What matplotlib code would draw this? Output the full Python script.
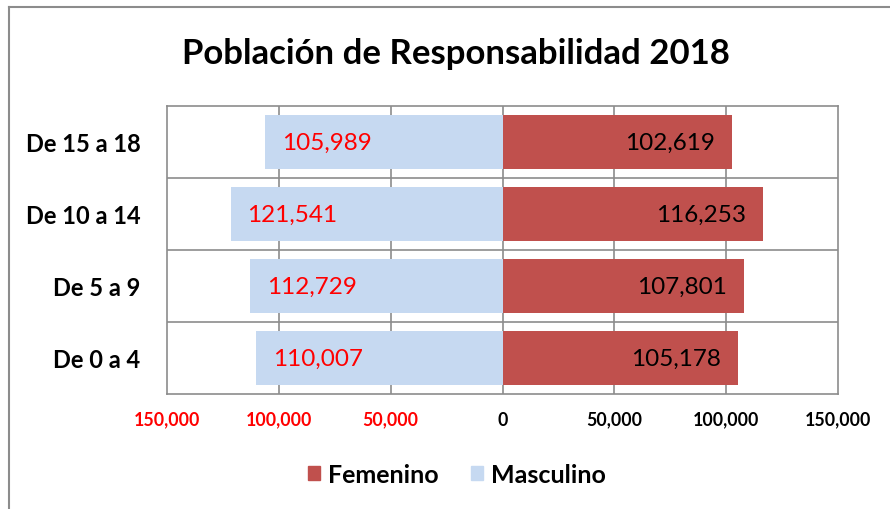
import matplotlib.pyplot as plt
import numpy as np
from matplotlib.patches import Patch
from matplotlib.lines import Line2D

plt.rcParams['font.family'] = ['Lato', 'DejaVu Sans']

groups = ["De 0 a 4", "De 5 a 9", "De 10 a 14", "De 15 a 18"]
masculino = [110007, 112729, 121541, 105989]
femenino = [105178, 107801, 116253, 102619]
ticks = [-150000, -100000, -50000, 0, 50000, 100000, 150000]

c_fem = "#C0504D"
c_mas = "#C6D9F1"

fig = plt.figure(figsize=(8.9, 5.1), dpi=100)
ax = fig.add_axes([167 / 890, 1 - 395 / 510, 671 / 890, 288 / 510])

y = np.arange(len(groups))
ax.barh(y, [-v for v in masculino], height=0.74, color=c_mas, zorder=2)
ax.barh(y, femenino, height=0.74, color=c_fem, zorder=2)

# value labels, inside the end of each bar
for yi, m, f in zip(y, masculino, femenino):
    ax.text(-m + 7500, yi, f"{m:,}", color="red", fontsize=17.5,
            ha="left", va="center", zorder=3)
    ax.text(f - 7500, yi, f"{f:,}", color="black", fontsize=17.5,
            ha="right", va="center", zorder=3)

ax.set_xlim(-150000, 150000)
ax.set_ylim(-0.5, len(groups) - 0.5)
ax.set_yticks(y)
ax.set_yticklabels(groups, fontsize=17, fontweight="bold")
ax.set_xticks(ticks)
ax.set_xticklabels([f"{abs(t):,}" for t in ticks], fontsize=12.8, fontweight="bold")
for lbl, t in zip(ax.get_xticklabels(), ticks):
    if t < 0:
        lbl.set_color("red")
ax.tick_params(length=0, pad=12)
ax.tick_params(axis="y", pad=19)

# grid: vertical at ticks, horizontal between categories
for t in ticks[1:-1]:
    ax.axvline(t, color="#8c8c8c", lw=1.2, zorder=1)
for b in [0.5, 1.5, 2.5]:
    ax.axhline(b, color="#8c8c8c", lw=1.2, zorder=1)
for s in ax.spines.values():
    s.set_color("#8c8c8c")
    s.set_linewidth(1.2)

fig.text(0.512, 0.895, "Población de Responsabilidad 2018", ha="center", va="center",
         fontsize=25, fontweight="bold")

handles = [Patch(color=c_fem, label="Femenino"), Patch(color=c_mas, label="Masculino")]
fig.legend(handles=handles, loc="center", bbox_to_anchor=(0.513, 0.068), ncol=2,
           frameon=False, prop={"size": 18, "weight": "bold"},
           handlelength=0.5, handleheight=0.5, handletextpad=0.3, columnspacing=1.3)

# outer chart border (only top and left visible)
fig.add_artist(Line2D([9 / 890, 9 / 890], [0, 1 - 8 / 510], transform=fig.transFigure,
                      color="#8c8c8c", lw=1.5))
fig.add_artist(Line2D([9 / 890, 1], [1 - 8 / 510, 1 - 8 / 510], transform=fig.transFigure,
                      color="#8c8c8c", lw=1.5))

fig.savefig("out.png", dpi=100)
